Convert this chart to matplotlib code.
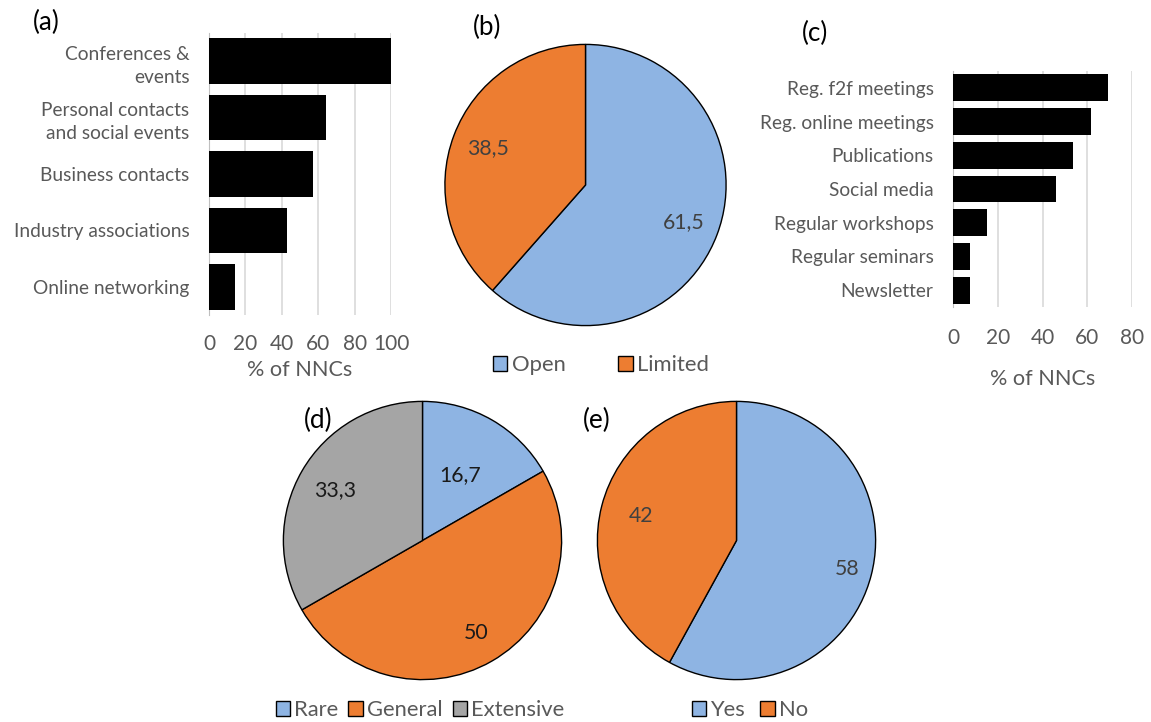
import matplotlib
matplotlib.use("Agg")
import matplotlib.pyplot as plt
from matplotlib.patches import Patch
import numpy as np

plt.rcParams["font.family"] = ["Lato", "DejaVu Sans"]

# (a) networking channels
a_labels = ["Conferences &\nevents", "Personal contacts\nand social events", "Business contacts",
            "Industry associations", "Online networking"]
a_values = [100, 64.3, 57.1, 42.9, 14.3]
a_ticks = [0, 20, 40, 60, 80, 100]

# (b) access
b_labels = ["Open", "Limited"]
b_values = [61.5, 38.5]

# (c) communication channels
c_labels = ["Reg. f2f meetings", "Reg. online meetings", "Publications", "Social media",
            "Regular workshops", "Regular seminars", "Newsletter"]
c_values = [69.2, 61.5, 53.8, 46.2, 15.4, 7.7, 7.7]
c_ticks = [0, 20, 40, 60, 80]

# (d) extent
d_labels = ["Rare", "General", "Extensive"]
d_values = [16.7, 50, 33.3]

# (e) yes / no
e_labels = ["Yes", "No"]
e_values = [58, 42]

BLUE = "#8EB4E3"
ORANGE = "#ED7D31"
GREY = "#A5A5A5"
TXT = "#595959"
FS = 13.8

W, H = 1151, 722
fig = plt.figure(figsize=(W / 100, H / 100), dpi=100)


def px_axes(x0, y0, x1, y1):
    return fig.add_axes([x0 / W, 1 - y1 / H, (x1 - x0) / W, (y1 - y0) / H])


def bar_panel(ax, labels, values, ticks, height, tickpad, labelpad):
    y = np.arange(len(values))
    ax.barh(y, values, height=height, color="black", zorder=3)
    ax.set_ylim(len(values) - 0.5, -0.5)
    ax.set_xlim(ticks[0], ticks[-1])
    ax.set_xticks(ticks)
    ax.set_yticks(y)
    ax.set_yticklabels(labels, fontsize=FS, color=TXT, linespacing=1.45)
    ax.tick_params(axis="x", labelsize=FS + 1.2, colors=TXT, length=0, pad=tickpad)
    ax.tick_params(axis="y", length=0, pad=14)
    ax.grid(axis="x", color="#D9D9D9", lw=1.2, zorder=0)
    for s in ["top", "right", "bottom"]:
        ax.spines[s].set_visible(False)
    ax.spines["left"].set_color("#BFBFBF")
    ax.set_xlabel("% of NNCs", fontsize=FS + 1.8, color=TXT, labelpad=labelpad)


def pie_panel(ax, values, colors, dists, txtcolor):
    ax.pie(values, colors=colors, startangle=90, counterclock=False,
           wedgeprops=dict(edgecolor="black", linewidth=1))
    ax.set_xlim(-1.01, 1.01)
    ax.set_ylim(-1.01, 1.01)
    total = float(sum(values))
    before = 0.0
    for v, d in zip(values, dists):
        ang = np.deg2rad(90 - 360 * (before + v / 2) / total)
        ax.text(d * np.cos(ang), d * np.sin(ang), f"{v:g}".replace(".", ","),
                ha="center", va="center", fontsize=FS + 1.5, color=txtcolor)
        before += v


def legend(labels, colors, cx, cy, spacing):
    handles = [Patch(facecolor=c, edgecolor="black", lw=1) for c in colors]
    fig.legend(handles, labels, loc="center", bbox_to_anchor=(cx / W, 1 - cy / H),
               ncol=len(labels), frameon=False, fontsize=FS + 2, labelcolor=TXT,
               handlelength=0.65, handleheight=0.65, handletextpad=0.2,
               columnspacing=spacing)


ax_a = px_axes(209, 33, 391, 315)
bar_panel(ax_a, a_labels, a_values, a_ticks, 0.81, 14, 4)

ax_c = px_axes(953, 71, 1132, 307)
bar_panel(ax_c, c_labels, c_values, c_ticks, 0.8, 15, 15)

ax_b = px_axes(443, 43, 728, 327)
pie_panel(ax_b, b_values, [BLUE, ORANGE], [0.75, 0.74], "#404040")
legend(b_labels, [BLUE, ORANGE], 601, 365, 2.4)

ax_d = px_axes(282, 400, 563, 681)
pie_panel(ax_d, d_values, [BLUE, ORANGE, GREY], [0.54, 0.77, 0.73], "#1A1A1A")
legend(d_labels, [BLUE, ORANGE, GREY], 420, 710, 0.45)

ax_e = px_axes(596, 400, 877, 681)
pie_panel(ax_e, e_values, [BLUE, ORANGE], [0.82, 0.71], "#404040")
legend(e_labels, [BLUE, ORANGE], 750, 710, 0.7)

for lab, x, y in [("(a)", 46, 22), ("(b)", 487, 27), ("(c)", 815, 33),
                  ("(d)", 318, 420), ("(e)", 597, 420)]:
    fig.text(x / W, 1 - y / H, lab, ha="center", va="center", fontsize=FS + 5, color="black")

fig.savefig("out.png", dpi=100)
